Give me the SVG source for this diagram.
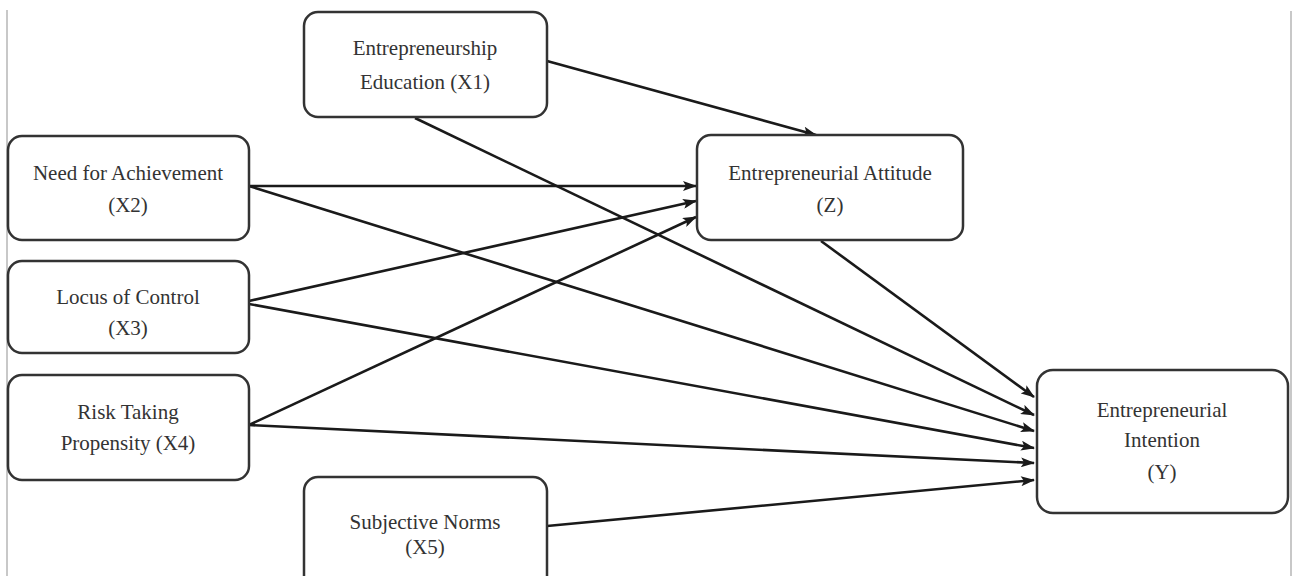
<svg xmlns="http://www.w3.org/2000/svg" width="1292" height="576" viewBox="0 0 1292 576">
<style>
.box{fill:#fff;stroke:#333;stroke-width:2.5}
.t{font-family:"Liberation Serif","Times New Roman",serif;font-size:21px;fill:#333;text-anchor:middle}
.c{fill:none;stroke:#1a1a1a;stroke-width:2.6}
.frame{stroke:#c8c8c8;stroke-width:2}
</style>
<defs>
<marker id="ah" viewBox="0 0 14 10" refX="13" refY="5" markerWidth="15" markerHeight="10" markerUnits="userSpaceOnUse" orient="auto">
<path d="M0,0 L14,5 L0,10 L3,5 z" fill="#1a1a1a"/>
</marker>
</defs>
<rect width="1292" height="576" fill="#fff"/>
<line class="frame" x1="7" y1="10" x2="7" y2="576"/>
<line class="frame" x1="1291" y1="11" x2="1291" y2="576"/>
<g id="connectors">
<line class="c" x1="547" y1="61" x2="816" y2="135" marker-end="url(#ah)"/>
<line class="c" x1="415" y1="118" x2="1034" y2="415" marker-end="url(#ah)"/>
<line class="c" x1="249" y1="186" x2="696" y2="186" marker-end="url(#ah)"/>
<line class="c" x1="249" y1="301" x2="696" y2="201" marker-end="url(#ah)"/>
<line class="c" x1="249" y1="425" x2="696" y2="217" marker-end="url(#ah)"/>
<line class="c" x1="821" y1="241" x2="1034" y2="397" marker-end="url(#ah)"/>
<line class="c" x1="249" y1="186" x2="1034" y2="431" marker-end="url(#ah)"/>
<line class="c" x1="249" y1="304" x2="1034" y2="448" marker-end="url(#ah)"/>
<line class="c" x1="249" y1="425" x2="1034" y2="463" marker-end="url(#ah)"/>
<line class="c" x1="547" y1="526" x2="1034" y2="480" marker-end="url(#ah)"/>
</g>
<g id="x1">
<rect class="box" x="304" y="12" width="243" height="105" rx="14"/>
<text class="t" x="425" y="55">Entrepreneurship</text>
<text class="t" x="425" y="89">Education (X1)</text>
</g>
<g id="x2">
<rect class="box" x="8" y="136" width="241" height="104" rx="14"/>
<text class="t" x="128" y="180">Need for Achievement</text>
<text class="t" x="128" y="212">(X2)</text>
</g>
<g id="x3">
<rect class="box" x="8" y="261" width="241" height="92" rx="14"/>
<text class="t" x="128" y="304">Locus of Control</text>
<text class="t" x="128" y="335">(X3)</text>
</g>
<g id="x4">
<rect class="box" x="8" y="375" width="241" height="105" rx="14"/>
<text class="t" x="128" y="419">Risk Taking</text>
<text class="t" x="128" y="450">Propensity (X4)</text>
</g>
<g id="x5">
<rect class="box" x="304" y="477" width="243" height="120" rx="14"/>
<text class="t" x="425" y="529">Subjective Norms</text>
<text class="t" x="425" y="554">(X5)</text>
</g>
<g id="z">
<rect class="box" x="697" y="135" width="266" height="105" rx="14"/>
<text class="t" x="830" y="180">Entrepreneurial Attitude</text>
<text class="t" x="830" y="212">(Z)</text>
</g>
<g id="y">
<rect class="box" x="1037" y="370" width="251" height="143" rx="16"/>
<text class="t" x="1162" y="417">Entrepreneurial</text>
<text class="t" x="1162" y="447">Intention</text>
<text class="t" x="1162" y="479">(Y)</text>
</g>
</svg>
